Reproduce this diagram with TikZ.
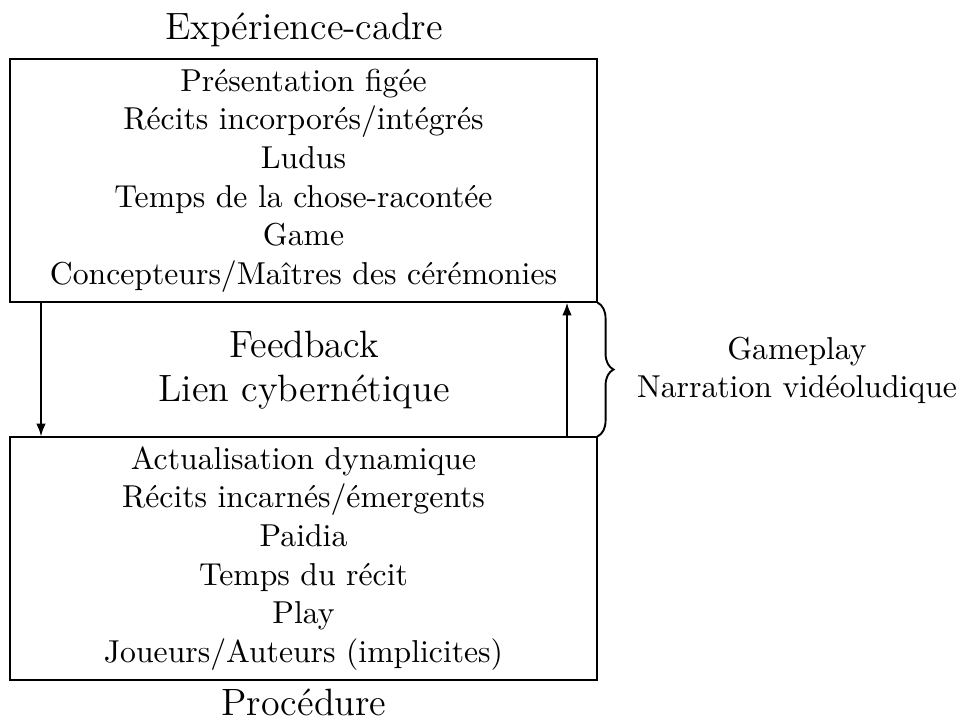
\documentclass[tikz,border=0pt]{standalone}
\usetikzlibrary{arrows.meta,decorations.pathreplacing}
\begin{document}
\begin{tikzpicture}[x=0.3155pt,y=-0.3155pt,
  boxnode/.style={draw,rectangle,minimum width=587*0.3155pt,minimum height=243*0.3155pt,inner sep=0pt,align=center,font=\fontsize{10}{12.2}\selectfont},
  titlenode/.style={font=\large,inner sep=0pt,align=center},
  midnode/.style={font=\large,inner sep=0pt,align=center},
  sidenode/.style={font=\normalsize,inner sep=0pt,align=center},
  arr/.style={-{Latex[length=4pt,width=3pt]},line width=0.6pt},
  bracestyle/.style={decorate,decoration={brace,amplitude=5pt},line width=0.6pt}]
\useasboundingbox (0,0) rectangle (960,719);
\node[titlenode] (title) at (304,30) {Expérience-cadre};
\node[boxnode] (top) at (303.5,180.5) {Présentation figée\\Récits incorporés/intégrés\\Ludus\\Temps de la chose-racontée\\Game\\Concepteurs/Maîtres des cérémonies};
\node[boxnode] (bot) at (303.5,558.5) {Actualisation dynamique\\Récits incarnés/émergents\\Paidia\\Temps du récit\\Play\\Joueurs/Auteurs (implicites)};
\node[titlenode] (proc) at (304,702) {Procédure};
\node[midnode] (mid) at (304,370) {Feedback\\Lien cybernétique};
\node[sidenode] (side) at (797,370) {Gameplay\\Narration vidéoludique};
\coordinate (dl) at (41,0);
\coordinate (ur) at (567,0);
\draw[arr] (top.south -| dl) -- (bot.north -| dl);
\draw[arr] (bot.north -| ur) -- (top.south -| ur);
\draw[bracestyle] (top.south east) -- (bot.north east);
\end{tikzpicture}
\end{document}
